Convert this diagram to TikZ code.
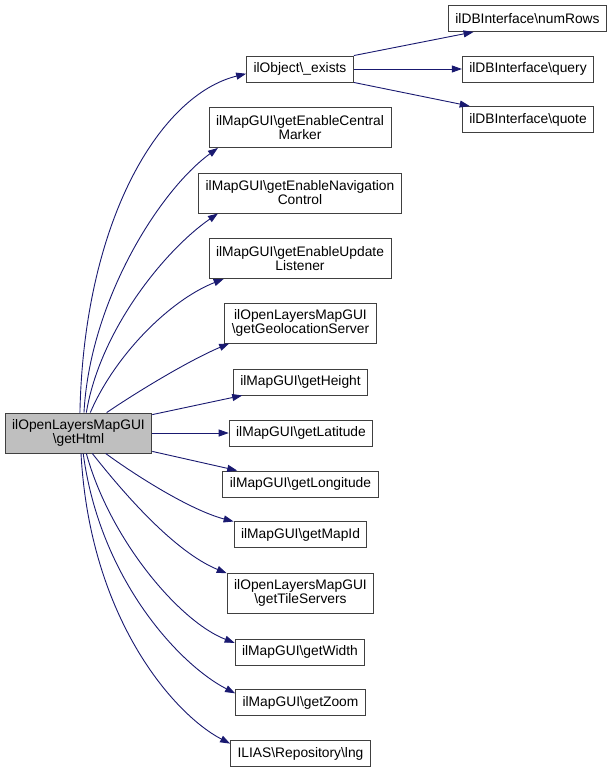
\documentclass[tikz,border=0pt]{standalone}
\usepackage{fontspec}
\setmainfont{Liberation Sans}
\usepackage{tikz}
\usetikzlibrary{arrows.meta}
\definecolor{edgeblue}{HTML}{191970}
\definecolor{nodegray}{HTML}{BFBFBF}

\begin{document}
\begin{tikzpicture}[x=1pt, y=-1pt,
    fn/.style={draw=black!75, line width=0.9pt, inner xsep=7pt, inner ysep=2pt,
      minimum height=26pt, align=center, font=\fontsize{13.8}{14}\selectfont},
    fn2/.style={fn, minimum height=40pt},
    call/.style={draw=edgeblue, line width=0.9pt, -{Triangle[length=10pt, width=7pt]}}]
  \useasboundingbox (0,0) rectangle (616,772);

  % funcao chamadora
  \node[fn2, fill=nodegray] (getHtml) at (78.5,433) {ilOpenLayersMapGUI\\\textbackslash getHtml};

  % primeiro nivel
  \node[fn] (exists) at (300,69) {ilObject\textbackslash\_exists};
  \node[fn2] (central) at (300,127.5) {ilMapGUI\textbackslash getEnableCentral\\Marker};
  \node[fn2] (navig) at (300,193) {ilMapGUI\textbackslash getEnableNavigation\\Control};
  \node[fn2] (update) at (300,258.5) {ilMapGUI\textbackslash getEnableUpdate\\Listener};
  \node[fn2] (geoloc) at (300.5,323) {ilOpenLayersMapGUI\\\textbackslash getGeolocationServer};
  \node[fn] (height) at (300.5,382) {ilMapGUI\textbackslash getHeight};
  \node[fn] (latitude) at (301,433) {ilMapGUI\textbackslash getLatitude};
  \node[fn] (longitude) at (300.5,484) {ilMapGUI\textbackslash getLongitude};
  \node[fn] (mapid) at (300.5,534.5) {ilMapGUI\textbackslash getMapId};
  \node[fn2] (tiles) at (300.5,593) {ilOpenLayersMapGUI\\\textbackslash getTileServers};
  \node[fn] (width) at (300,652) {ilMapGUI\textbackslash getWidth};
  \node[fn] (zoom) at (300.5,702.5) {ilMapGUI\textbackslash getZoom};
  \node[fn] (lng) at (300.5,753.5) {ILIAS\textbackslash Repository\textbackslash lng};

  % segundo nivel
  \node[fn] (numRows) at (527.5,18.5) {ilDBInterface\textbackslash numRows};
  \node[fn] (query) at (528,69) {ilDBInterface\textbackslash query};
  \node[fn] (quote) at (528,119.5) {ilDBInterface\textbackslash quote};

  % chamadas de getHtml
  \draw[call] (getHtml.86) .. controls (84,220) and (160,95) .. (exists.185);
  \draw[call] (getHtml.75) .. controls (90,300) and (160,190) .. (central.194);
  \draw[call] (getHtml.69) .. controls (100,330) and (165,250) .. (navig.194);
  \draw[call] (getHtml.60) .. controls (115,355) and (170,300) .. (update.195);
  \draw[call] (getHtml.36) .. controls (140,390) and (190,360) .. (geoloc.196);
  \draw[call] (getHtml.14) -- (height.193);
  \draw[call] (getHtml.east) -- (latitude.west);
  \draw[call] (getHtml.-14) -- (longitude.168);
  \draw[call] (getHtml.-37) .. controls (135,475) and (190,510) .. (mapid.169);
  \draw[call] (getHtml.-56) .. controls (125,495) and (175,552) .. (tiles.165);
  \draw[call] (getHtml.-69) .. controls (110,540) and (180,622) .. (width.172);
  \draw[call] (getHtml.-77) .. controls (100,580) and (180,665) .. (zoom.172);
  \draw[call] (getHtml.-83) .. controls (90,620) and (175,715) .. (lng.172);

  % chamadas de exists
  \draw[call] (exists.north east) -- (numRows.194);
  \draw[call] (exists.east) -- (query.west);
  \draw[call] (exists.south east) -- (quote.167);
\end{tikzpicture}
\end{document}
